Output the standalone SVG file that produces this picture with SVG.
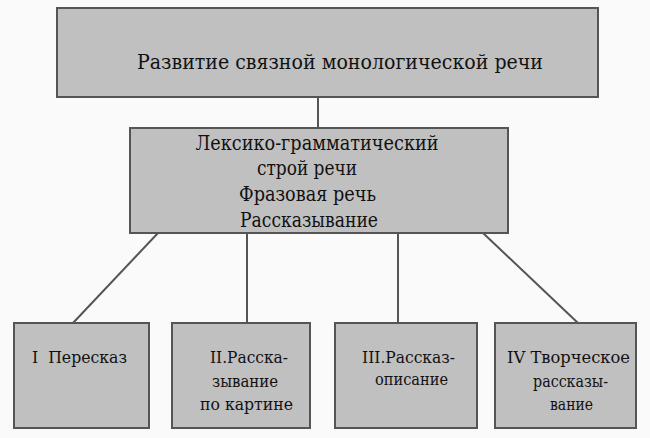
<svg xmlns="http://www.w3.org/2000/svg" width="650" height="438" viewBox="0 0 650 438">
<style>
.box{fill:#c0c0c0;stroke:#555;stroke-width:2}
.c{stroke:#555;stroke-width:2;fill:none}
text{font-family:'DejaVu Serif','Liberation Serif','Noto Serif','Times New Roman',serif;fill:#111;text-anchor:middle}
.big{font-size:20px}
.sm{font-size:17px}
</style>
<rect width="650" height="438" fill="#fafafa"/>
<g id="connectors">
<line class="c" x1="318" y1="97" x2="318" y2="128"/>
<line class="c" x1="158" y1="233" x2="73" y2="323"/>
<line class="c" x1="247" y1="233" x2="247" y2="323"/>
<line class="c" x1="398" y1="233" x2="398" y2="323"/>
<line class="c" x1="483" y1="233" x2="578" y2="323"/>
</g>
<g id="top">
<rect class="box" x="57" y="8" width="541" height="89"/>
<text class="big" x="340" y="69" textLength="406" lengthAdjust="spacingAndGlyphs">Развитие связной монологической речи</text>
</g>
<g id="middle">
<rect class="box" x="130" y="128" width="378" height="105"/>
<text class="big" x="317" y="150" textLength="243" lengthAdjust="spacingAndGlyphs">Лексико-грамматический</text>
<text class="big" x="307" y="175" textLength="100" lengthAdjust="spacingAndGlyphs">строй речи</text>
<text class="big" x="307.5" y="201" textLength="137" lengthAdjust="spacingAndGlyphs">Фразовая речь</text>
<text class="big" x="309" y="227" textLength="138" lengthAdjust="spacingAndGlyphs">Рассказывание</text>
</g>
<g id="b1">
<rect class="box" x="14" y="323" width="135" height="105"/>
<text class="sm" x="79.5" y="363" textLength="95" lengthAdjust="spacingAndGlyphs" xml:space="preserve">I  Пересказ</text>
</g>
<g id="b2">
<rect class="box" x="172" y="323" width="138" height="105"/>
<text class="sm" x="249" y="363" textLength="78" lengthAdjust="spacingAndGlyphs">II.Расска-</text>
<text class="sm" x="245" y="387" textLength="66" lengthAdjust="spacingAndGlyphs">зывание</text>
<text class="sm" x="246.5" y="410" textLength="93" lengthAdjust="spacingAndGlyphs">по картине</text>
</g>
<g id="b3">
<rect class="box" x="335" y="323" width="142" height="105"/>
<text class="sm" x="408.5" y="363" textLength="93" lengthAdjust="spacingAndGlyphs">III.Рассказ-</text>
<text class="sm" x="411.5" y="385" textLength="73" lengthAdjust="spacingAndGlyphs">описание</text>
</g>
<g id="b4">
<rect class="box" x="495" y="323" width="141" height="105"/>
<text class="sm" x="568.5" y="363" textLength="123" lengthAdjust="spacingAndGlyphs">IV Творческое</text>
<text class="sm" x="570.5" y="387" textLength="75" lengthAdjust="spacingAndGlyphs">рассказы-</text>
<text class="sm" x="571.5" y="410" textLength="43" lengthAdjust="spacingAndGlyphs">вание</text>
</g>
</svg>
